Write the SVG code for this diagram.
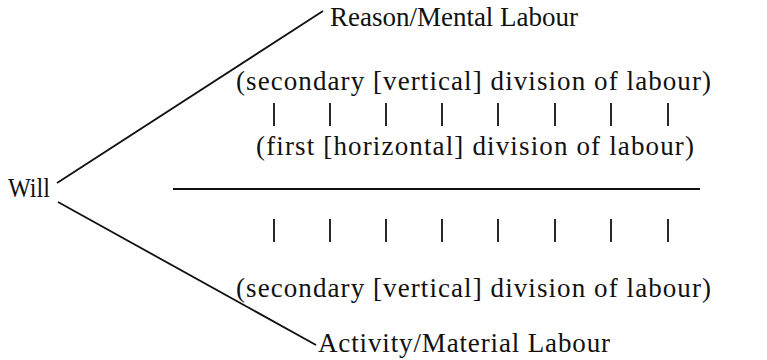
<svg xmlns="http://www.w3.org/2000/svg" width="767" height="360" viewBox="0 0 767 360">
<style>
text{font-family:"Liberation Serif","Times New Roman",serif;font-size:27px;fill:#111}
.ln{stroke:#111;stroke-width:1.8;fill:none}
.bar{stroke:#111;stroke-width:1.8}
</style>
<rect width="767" height="360" fill="#fff"/>
<g id="will"><text x="8" y="197" textLength="42" lengthAdjust="spacingAndGlyphs">Will</text></g>
<g id="reason"><text x="330" y="26" textLength="248">Reason/Mental Labour</text></g>
<g id="activity"><text x="318" y="352" textLength="292">Activity/Material Labour</text></g>
<g id="secondary-top"><text x="236" y="90" textLength="475">(secondary [vertical] division of labour)</text></g>
<g id="first"><text x="256" y="155" textLength="438">(first [horizontal] division of labour)</text></g>
<g id="secondary-bottom"><text x="236" y="297" textLength="475">(secondary [vertical] division of labour)</text></g>
<g id="divider"><line class="ln" x1="173" y1="189" x2="700" y2="189"/></g>
<g id="bars-top">
<line class="bar" x1="274" y1="103" x2="274" y2="126"/>
<line class="bar" x1="330" y1="103" x2="330" y2="126"/>
<line class="bar" x1="386" y1="103" x2="386" y2="126"/>
<line class="bar" x1="442" y1="103" x2="442" y2="126"/>
<line class="bar" x1="498" y1="103" x2="498" y2="126"/>
<line class="bar" x1="555" y1="103" x2="555" y2="126"/>
<line class="bar" x1="611" y1="103" x2="611" y2="126"/>
<line class="bar" x1="668" y1="103" x2="668" y2="126"/>
</g>
<g id="bars-bottom">
<line class="bar" x1="274" y1="219" x2="274" y2="242"/>
<line class="bar" x1="330" y1="219" x2="330" y2="242"/>
<line class="bar" x1="386" y1="219" x2="386" y2="242"/>
<line class="bar" x1="442" y1="219" x2="442" y2="242"/>
<line class="bar" x1="498" y1="219" x2="498" y2="242"/>
<line class="bar" x1="555" y1="219" x2="555" y2="242"/>
<line class="bar" x1="611" y1="219" x2="611" y2="242"/>
<line class="bar" x1="668" y1="219" x2="668" y2="242"/>
</g>
<g id="connectors">
<line class="ln" x1="57" y1="183" x2="323" y2="11"/>
<line class="ln" x1="58" y1="202" x2="316" y2="345"/>
</g>
</svg>
